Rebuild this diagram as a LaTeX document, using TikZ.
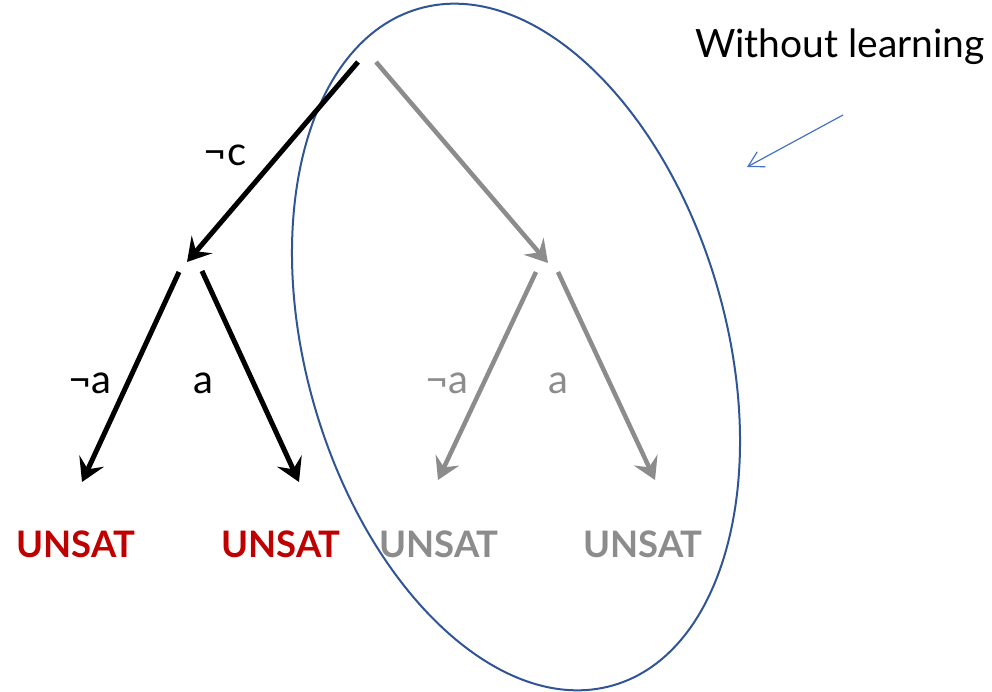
\documentclass[tikz,border=0pt]{standalone}
\usepackage{fontspec}
\setmainfont{Lato}
\usetikzlibrary{arrows.meta}
\definecolor{ublue}{HTML}{2F5597}
\definecolor{lblue}{HTML}{4472C4}
\definecolor{ured}{HTML}{C00000}
\definecolor{ugray}{HTML}{8C8C8C}
\tikzset{
  edgeblack/.style={draw=black, line width=5pt, -{Stealth[length=23pt,width=27pt,inset=9pt]}},
  edgegray/.style={draw=ugray, line width=4.5pt, -{Stealth[length=22pt,width=26pt,inset=8pt]}},
  lit/.style={anchor=base, inner sep=0pt, font=\fontsize{40}{42}\selectfont},
  res/.style={anchor=base, inner sep=0pt, font=\fontsize{36.5}{40}\selectfont\bfseries},
}
\begin{document}
\begin{tikzpicture}[x=1pt,y=-1pt]
\useasboundingbox (0,0) rectangle (992,692);
% ellipse
\draw[ublue, line width=2pt, rotate around={16:(516,347)}] (516,347) ellipse [x radius=210, y radius=352];
% coordinates
\coordinate (rootL) at (358,62);
\coordinate (rootR) at (376,62);
\coordinate (nL) at (187,262);
\coordinate (nR) at (548,263);
\coordinate (nLa) at (179,272);
\coordinate (nLb) at (202,271);
\coordinate (nRa) at (536,272);
\coordinate (nRb) at (558,272);
\coordinate (l1) at (82,482);
\coordinate (l2) at (299,482);
\coordinate (l3) at (438,480);
\coordinate (l4) at (655,480);
% edges
\draw[edgeblack] (rootL) -- (nL);
\draw[edgegray] (rootR) -- (nR);
\draw[edgeblack] (nLa) -- (l1);
\draw[edgeblack] (nLb) -- (l2);
\draw[edgegray] (nRa) -- (l3);
\draw[edgegray] (nRb) -- (l4);
% labels
\node[lit] (lc) at (225,166) {¬c};
\node[lit] (la1) at (90,393) {¬a};
\node[lit] (la2) at (203,393) {a};
\node[lit, text=ugray] (la3) at (447,393) {¬a};
\node[lit, text=ugray] (la4) at (558,393) {a};
% results
\node[res, text=ured] (u1) at (76,557) {UNSAT};
\node[res, text=ured] (u2) at (281,557) {UNSAT};
\node[res, text=ugray] (u3) at (439,557) {UNSAT};
\node[res, text=ugray] (u4) at (643,557) {UNSAT};
% note
\node[anchor=base, inner sep=0pt, font=\fontsize{39}{42}\selectfont] (note) at (840,58) {Without learning};
\coordinate (ns) at (843,115);
\coordinate (ne) at (747,167);
\draw[lblue, line width=1.2pt, -{Straight Barb[length=15pt,width=17pt]}] (ns) -- (ne);
\end{tikzpicture}
\end{document}
